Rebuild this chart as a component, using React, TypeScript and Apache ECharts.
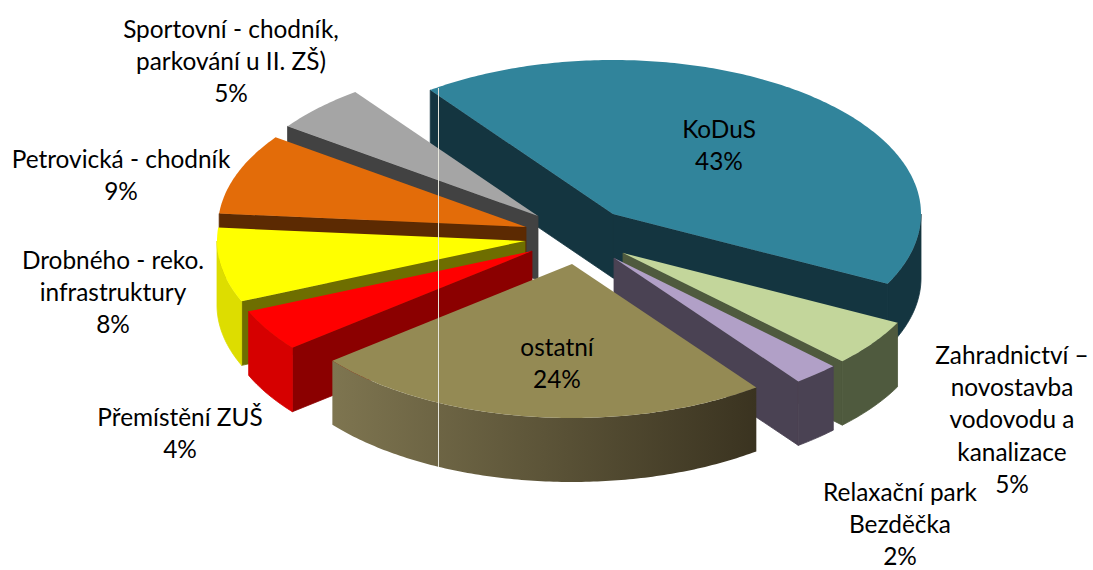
import React, { useEffect, useRef } from "react";
import * as echarts from "echarts";

const categories = [
  "KoDuS",
  "Zahradnictví –\nnovostavba\nvodovodu a\nkanalizace",
  "Relaxační park\nBezděčka",
  "ostatní",
  "Přemístění ZUŠ",
  "Drobného - reko.\ninfrastruktury",
  "Petrovická - chodník",
  "Sportovní - chodník,\nparkování u II. ZŠ)",
];
const values = [42.6, 4.9, 2.4, 24.4, 4.4, 7.8, 8.5, 5];
const topColors = ["#31849B", "#C3D69B", "#B1A0C7", "#948A54", "#FF0000", "#FFFF00", "#E36C09", "#A5A5A5"];
const radialColors = ["#143540", "#4F5A3E", "#4A4253", "#3A3320", "#8B0000", "#6E6E00", "#5C2A02", "#424242"];
const outerColors = ["#143540", "#4F5A3E", "#4A4253", "#3A3320", "#D60000", "#DDDD00", "#5C2A02", "#424242"];
// layout: exploded apex of every slice, label anchor (centre x, first-line centre y)
const apexes = [[613, 214], [623, 253], [614, 258], [572, 264], [532, 251], [525, 241], [526, 227], [538, 216]];
const labelPos = [[719, 128], [1012, 354], [900, 491], [557, 346], [180, 416], [113, 259], [121, 158], [231, 28]];
const drawOrder = [0, 7, 6, 5, 1, 2, 4, 3];

const START_ANGLE = -36.4;
const RX = 308;
const RY = 154;
const DEPTH = 64;
const LINE_H = 32.4;
const FONT = '24.4px Lato, "Open Sans", sans-serif';

const total = values.reduce((s, v) => s + v, 0);
const bounds: number[][] = [];
values.reduce((acc, v) => {
  const next = acc + (v / total) * 360;
  bounds.push([acc, next]);
  return next;
}, START_ANGLE);

const pt = (ax: number, ay: number, deg: number): number[] => {
  const r = (deg * Math.PI) / 180;
  return [ax + RX * Math.sin(r), ay - RY * Math.cos(r)];
};
const arc = (ax: number, ay: number, a: number, b: number): number[][] => {
  const n = Math.max(2, Math.ceil(Math.abs(b - a) / 0.75));
  const out: number[][] = [];
  for (let i = 0; i <= n; i++) out.push(pt(ax, ay, a + ((b - a) * i) / n));
  return out;
};

function renderItem(_params: any, api: any) {
  const i = api.value(1) as number;
  const [a, b] = bounds[i];
  const [ax, ay] = apexes[i];
  const children: any[] = [];
  const poly = (points: number[][], fill: any, seam?: string) =>
    children.push({
      type: "polygon",
      shape: { points },
      style: seam ? { fill, stroke: seam, lineWidth: 0.8 } : { fill, stroke: null },
      silent: true,
    });

  const mid = pt(ax, ay, (a + b) / 2);
  [a, b].forEach((ang) => {
    const e = pt(ax, ay, ang);
    const ex = e[0] - ax;
    const ey = e[1] - ay;
    const lineY = ey * ((mid[0] - ax) / ex);
    if (mid[1] - ay < lineY) {
      poly([[ax, ay], e, [e[0], e[1] + DEPTH], [ax, ay + DEPTH]], radialColors[i], radialColors[i]);
    }
  });

  const wa = Math.max(a, 90);
  const wb = Math.min(b, 270);
  if (wb > wa) {
    const top = arc(ax, ay, wa, wb);
    const bottom = top.map((p) => [p[0], p[1] + DEPTH]).reverse();
    const fill =
      i === 3
        ? {
            type: "linear",
            x: 0,
            y: 0,
            x2: 1,
            y2: 0,
            colorStops: [
              { offset: 0, color: "#7E7550" },
              { offset: 1, color: "#3A3320" },
            ],
          }
        : outerColors[i];
    poly(top.concat(bottom), fill, i === 3 ? undefined : outerColors[i]);
  }

  poly([[ax, ay], ...arc(ax, ay, a, b)], topColors[i]);

  return { type: "group", children };
}

function labelsItem(_params: any, api: any) {
  const i = api.value(1) as number;
  const [x, y] = labelPos[i];
  const lines = categories[i].split("\n");
  const children = [...lines, `${Math.round(values[i])}%`].map((t, k) => ({
    type: "text",
    silent: true,
    style: {
      text: t,
      x,
      y: y + k * LINE_H,
      font: FONT,
      fill: "#000000",
      align: "center",
      verticalAlign: "middle",
    },
  }));
  return { type: "group", children };
}

export default function App() {
  const ref = useRef<HTMLDivElement>(null);
  useEffect(() => {
    const chart = echarts.init(ref.current!, null, { renderer: "svg" });
    chart.setOption({
      animation: false,
      backgroundColor: "#ffffff",
      series: [
        {
          type: "custom",
          coordinateSystem: "none",
          renderItem,
          data: drawOrder.map((i) => ({ name: categories[i], value: [values[i], i] })),
          z: 2,
          silent: true,
        },
        {
          type: "custom",
          coordinateSystem: "none",
          renderItem: labelsItem,
          data: categories.map((name, i) => ({ name, value: [values[i], i] })),
          z: 5,
          silent: true,
        },
      ],
      graphic: [
        {
          type: "line",
          z: 4,
          silent: true,
          shape: { x1: 438.5, y1: 88, x2: 438.5, y2: 467 },
          style: { stroke: "#E6E6DC", lineWidth: 1 },
        },
      ],
    });
    return () => chart.dispose();
  }, []);
  return <div ref={ref} style={{ position: "fixed", left: 0, top: 0, width: 1093, height: 570 }} />;
}
